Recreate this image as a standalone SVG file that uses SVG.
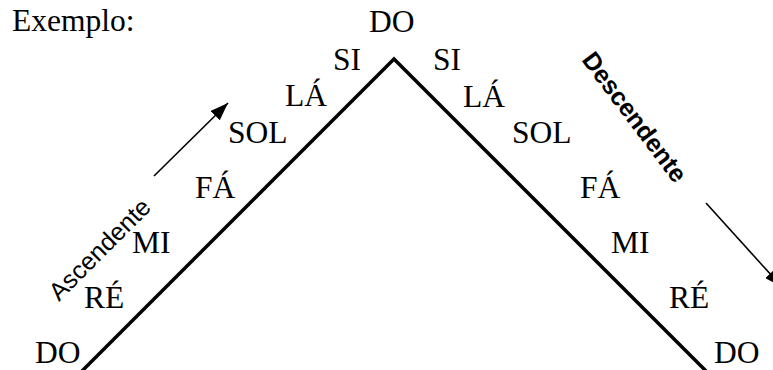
<svg xmlns="http://www.w3.org/2000/svg" width="773" height="370" viewBox="0 0 773 370">
<style>
.n{font-family:"Liberation Serif","Times New Roman",serif;font-size:31.5px;fill:#000}
.s{font-family:"Liberation Sans",Arial,sans-serif;font-size:25px;fill:#000}
.line{fill:none;stroke:#000;stroke-width:3.5;stroke-linejoin:miter}
.arr{fill:none;stroke:#000;stroke-width:1.6}
</style>
<defs>
<marker id="ahl" viewBox="0 0 18 13" refX="18" refY="6.5" markerWidth="18" markerHeight="13" markerUnits="userSpaceOnUse" orient="auto">
<path d="M0,0 L18,6.5 L0,13 z" fill="#000"/>
</marker>
</defs>
<rect width="773" height="370" fill="#fff"/>
<text class="n" x="12" y="31">Exemplo:</text>
<g id="connectors">
<polyline class="line" points="80,373 394,59 708,373"/>
<line class="arr" x1="154" y1="176" x2="228" y2="103" marker-end="url(#ahl)"/>
<line class="arr" x1="706" y1="203" x2="782" y2="287" marker-end="url(#ahl)"/>
</g>
<g id="top-do"><text class="n" x="369" y="32">DO</text></g>
<g id="left-si"><text class="n" x="333" y="70">SI</text></g>
<g id="left-la"><text class="n" x="285" y="106">LÁ</text></g>
<g id="left-sol"><text class="n" x="228" y="143">SOL</text></g>
<g id="left-fa"><text class="n" x="195" y="198">FÁ</text></g>
<g id="left-mi"><text class="n" x="132" y="253">MI</text></g>
<g id="left-re"><text class="n" x="84" y="308">RÉ</text></g>
<g id="left-do"><text class="n" x="35" y="363">DO</text></g>
<g id="right-si"><text class="n" x="433" y="70">SI</text></g>
<g id="right-la"><text class="n" x="463" y="107">LÁ</text></g>
<g id="right-sol"><text class="n" x="512" y="143">SOL</text></g>
<g id="right-fa"><text class="n" x="580" y="198">FÁ</text></g>
<g id="right-mi"><text class="n" x="611" y="253">MI</text></g>
<g id="right-re"><text class="n" x="669" y="308">RÉ</text></g>
<g id="right-do"><text class="n" x="714" y="363">DO</text></g>
<g id="ascendente"><text class="s" transform="translate(59,302) rotate(-45)">Ascendente</text></g>
<g id="descendente"><text class="s" font-weight="bold" font-size="26px" transform="translate(581,60) rotate(53)">Descendente</text></g>
</svg>
